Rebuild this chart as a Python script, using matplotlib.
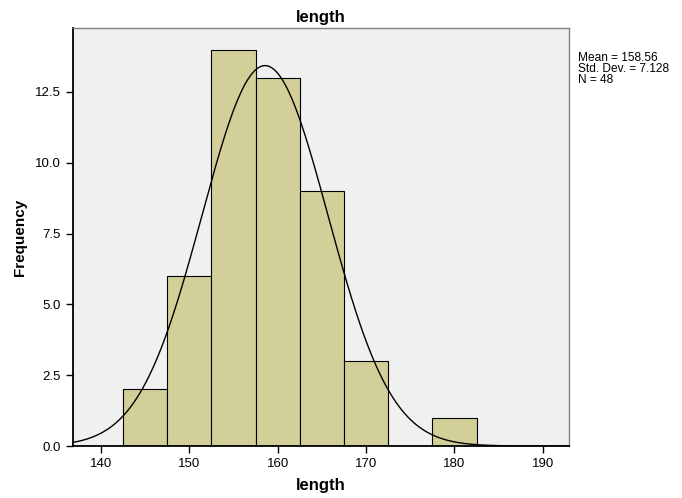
import numpy as np
import matplotlib
matplotlib.use("Agg")
import matplotlib.pyplot as plt
from matplotlib import font_manager

plt.rcParams['font.family'] = ['Liberation Sans', 'DejaVu Sans']

bin_edges = [142.5, 147.5, 152.5, 157.5, 162.5, 167.5, 172.5, 177.5, 182.5]
counts = [2, 6, 14, 13, 9, 3, 0, 1]
mean = 158.56
sd = 7.128
n = 48
xticks = [140, 150, 160, 170, 180, 190]
yticks = [0.0, 2.5, 5.0, 7.5, 10.0, 12.5]

names = {f.name for f in font_manager.fontManager.ttflist}
narrow = 'Liberation Sans Narrow' if 'Liberation Sans Narrow' in names else 'Liberation Sans'

fig = plt.figure(figsize=(6.82, 4.98), dpi=100)
ax = fig.add_axes([0.107, 0.1044, 0.727, 0.8394])
ax.set_facecolor("#F0F0F0")

widths = np.diff(bin_edges)
ax.bar(bin_edges[:-1], counts, width=widths, align="edge",
       color="#D3CF98", edgecolor="black", linewidth=0.8, zorder=2)

xs = np.linspace(136.8, 192.9, 500)
bw = 5.0
ys = n * bw / (sd * np.sqrt(2 * np.pi)) * np.exp(-0.5 * ((xs - mean) / sd) ** 2)
ax.plot(xs, ys, color="black", linewidth=1.0, zorder=3)

ax.set_xlim(136.83, 192.94)
ax.set_ylim(0, 14.76)
ax.set_xticks(xticks)
ax.set_xticklabels([str(t) for t in xticks])
ax.set_yticks(yticks)
ax.set_yticklabels([f"{t:.1f}" for t in yticks])
ax.tick_params(axis="both", labelsize=9.5, length=5, width=1, direction="out")

for s in ["top", "right"]:
    ax.spines[s].set_color("#808080")
    ax.spines[s].set_linewidth(1.0)
for s in ["left", "bottom"]:
    ax.spines[s].set_color("black")
    ax.spines[s].set_linewidth(1.3)

ax.set_title("length", fontsize=12, fontweight="bold", pad=4)
ax.set_xlabel("length", fontsize=12, fontweight="bold", labelpad=6)
ax.set_ylabel("Frequency", fontsize=11, fontweight="bold", labelpad=6,
              family=[narrow, 'DejaVu Sans'])

fig.text(0.848, 0.895, f"Mean = {mean:.2f}\nStd. Dev. = {sd:.3f}\nN = {n}",
         fontsize=8.6, va="top", ha="left", linespacing=0.9)

fig.savefig("out.png", dpi=100)
